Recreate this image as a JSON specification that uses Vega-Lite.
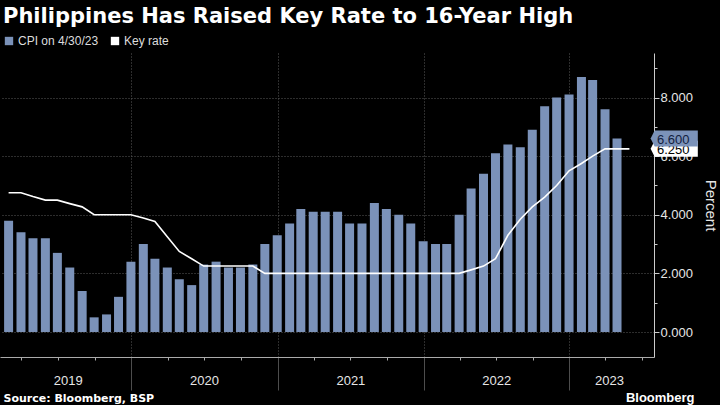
{
  "$schema": "https://vega.github.io/schema/vega-lite/v6.json",
  "width": 654,
  "height": 304,
  "autosize": {"type": "none"},
  "padding": {"left": 0, "top": 53, "right": 66, "bottom": 48},
  "background": "#000000",
  "config": {"view": {"stroke": null}},
  "title": {
    "text": "Philippines Has Raised Key Rate to 16-Year High",
    "anchor": "start",
    "frame": "group",
    "font": "DejaVu Sans",
    "fontSize": 21,
    "fontWeight": "bold",
    "color": "#ffffff",
    "offset": 8,
    "dx": 3
  },
  "datasets": {
    "cpi": [
      {"date": "2019-02-28", "value": 3.8},
      {"date": "2019-03-31", "value": 3.4},
      {"date": "2019-04-30", "value": 3.2},
      {"date": "2019-05-31", "value": 3.2},
      {"date": "2019-06-30", "value": 2.7},
      {"date": "2019-07-31", "value": 2.2},
      {"date": "2019-08-31", "value": 1.4},
      {"date": "2019-09-30", "value": 0.5},
      {"date": "2019-10-31", "value": 0.6},
      {"date": "2019-11-30", "value": 1.2},
      {"date": "2019-12-31", "value": 2.4},
      {"date": "2020-01-31", "value": 3.0},
      {"date": "2020-02-29", "value": 2.5},
      {"date": "2020-03-31", "value": 2.2},
      {"date": "2020-04-30", "value": 1.8},
      {"date": "2020-05-31", "value": 1.6},
      {"date": "2020-06-30", "value": 2.3},
      {"date": "2020-07-31", "value": 2.4},
      {"date": "2020-08-31", "value": 2.2},
      {"date": "2020-09-30", "value": 2.2},
      {"date": "2020-10-31", "value": 2.3},
      {"date": "2020-11-30", "value": 3.0},
      {"date": "2020-12-31", "value": 3.3},
      {"date": "2021-01-31", "value": 3.7},
      {"date": "2021-02-28", "value": 4.2},
      {"date": "2021-03-31", "value": 4.1},
      {"date": "2021-04-30", "value": 4.1},
      {"date": "2021-05-31", "value": 4.1},
      {"date": "2021-06-30", "value": 3.7},
      {"date": "2021-07-31", "value": 3.7},
      {"date": "2021-08-31", "value": 4.4},
      {"date": "2021-09-30", "value": 4.2},
      {"date": "2021-10-31", "value": 4.0},
      {"date": "2021-11-30", "value": 3.7},
      {"date": "2021-12-31", "value": 3.1},
      {"date": "2022-01-31", "value": 3.0},
      {"date": "2022-02-28", "value": 3.0},
      {"date": "2022-03-31", "value": 4.0},
      {"date": "2022-04-30", "value": 4.9},
      {"date": "2022-05-31", "value": 5.4},
      {"date": "2022-06-30", "value": 6.1},
      {"date": "2022-07-31", "value": 6.4},
      {"date": "2022-08-31", "value": 6.3},
      {"date": "2022-09-30", "value": 6.9},
      {"date": "2022-10-31", "value": 7.7},
      {"date": "2022-11-30", "value": 8.0},
      {"date": "2022-12-31", "value": 8.1},
      {"date": "2023-01-31", "value": 8.7},
      {"date": "2023-02-28", "value": 8.6},
      {"date": "2023-03-31", "value": 7.6},
      {"date": "2023-04-30", "value": 6.6}
    ],
    "rate": [
      {"date": "2019-02-28", "value": 4.75},
      {"date": "2019-03-31", "value": 4.75},
      {"date": "2019-04-30", "value": 4.62},
      {"date": "2019-05-31", "value": 4.5},
      {"date": "2019-06-30", "value": 4.5},
      {"date": "2019-07-31", "value": 4.38},
      {"date": "2019-08-31", "value": 4.27},
      {"date": "2019-09-30", "value": 4.0},
      {"date": "2019-10-31", "value": 4.0},
      {"date": "2019-11-30", "value": 4.0},
      {"date": "2019-12-31", "value": 4.0},
      {"date": "2020-01-31", "value": 3.89},
      {"date": "2020-02-29", "value": 3.77},
      {"date": "2020-03-31", "value": 3.25},
      {"date": "2020-04-30", "value": 2.75},
      {"date": "2020-05-31", "value": 2.5},
      {"date": "2020-06-30", "value": 2.25},
      {"date": "2020-07-31", "value": 2.25},
      {"date": "2020-08-31", "value": 2.25},
      {"date": "2020-09-30", "value": 2.25},
      {"date": "2020-10-31", "value": 2.25},
      {"date": "2020-11-30", "value": 2.0},
      {"date": "2020-12-31", "value": 2.0},
      {"date": "2021-01-31", "value": 2.0},
      {"date": "2021-02-28", "value": 2.0},
      {"date": "2021-03-31", "value": 2.0},
      {"date": "2021-04-30", "value": 2.0},
      {"date": "2021-05-31", "value": 2.0},
      {"date": "2021-06-30", "value": 2.0},
      {"date": "2021-07-31", "value": 2.0},
      {"date": "2021-08-31", "value": 2.0},
      {"date": "2021-09-30", "value": 2.0},
      {"date": "2021-10-31", "value": 2.0},
      {"date": "2021-11-30", "value": 2.0},
      {"date": "2021-12-31", "value": 2.0},
      {"date": "2022-01-31", "value": 2.0},
      {"date": "2022-02-28", "value": 2.0},
      {"date": "2022-03-31", "value": 2.0},
      {"date": "2022-04-30", "value": 2.12},
      {"date": "2022-05-31", "value": 2.25},
      {"date": "2022-06-30", "value": 2.5},
      {"date": "2022-07-31", "value": 3.3},
      {"date": "2022-08-31", "value": 3.85},
      {"date": "2022-09-30", "value": 4.27},
      {"date": "2022-10-31", "value": 4.6},
      {"date": "2022-11-30", "value": 5.0},
      {"date": "2022-12-31", "value": 5.5},
      {"date": "2023-01-31", "value": 5.75},
      {"date": "2023-02-28", "value": 6.0},
      {"date": "2023-03-31", "value": 6.25},
      {"date": "2023-04-30", "value": 6.25},
      {"date": "2023-05-31", "value": 6.25}
    ]
  },
  "encoding": {
    "y": {
      "field": "value",
      "type": "quantitative",
      "scale": {"domain": [-0.853, 9.52], "nice": false, "zero": false},
      "axis": {
        "orient": "right",
        "values": [0, 1, 2, 3, 4, 5, 6, 7, 8, 9],
        "labelExpr": "datum.value % 2 === 0 ? format(datum.value, '.3f') : ''",
        "tickSize": {"condition": {"test": "datum.value % 2 === 0", "value": 5}, "value": 3},
        "grid": true,
        "gridOpacity": {"condition": {"test": "datum.value % 2 === 0", "value": 1}, "value": 0},
        "gridDash": [1, 2],
        "gridColor": "#5a5a5a",
        "domainColor": "#cccccc",
        "tickColor": "#cccccc",
        "labelColor": "#e6e6e6",
        "labelFont": "Liberation Sans",
        "labelFontSize": 13,
        "labelPadding": 1,
        "labelOverlap": false,
        "labelFlush": false,
        "title": "Percent",
        "titleColor": "#e6e6e6",
        "titleFont": "Liberation Sans",
        "titleFontSize": 15,
        "titleFontWeight": "normal",
        "titlePadding": 10
      }
    }
  },
  "layer": [
    {
      "data": {"name": "cpi"},
      "mark": {"type": "bar", "width": 9},
      "encoding": {
        "x": {
          "field": "date",
          "type": "temporal",
          "scale": {"type": "utc", "domain": [{"year": 2019, "month": 2, "date": 19, "utc": true}, {"year": 2023, "month": 7, "date": 19, "utc": true}], "nice": false},
          "axis": {
            "orient": "bottom",
            "tickCount": {"interval": "month", "step": 3},
            "labels": false,
            "tickSize": {"condition": {"test": "utcmonth(datum.value) === 0", "value": 33}, "value": 3},
            "tickColor": {"condition": {"test": "utcmonth(datum.value) === 0", "value": "#4d4d4d"}, "value": "#aaaaaa"},
            "grid": true,
            "gridOpacity": {"condition": {"test": "utcmonth(datum.value) === 0", "value": 1}, "value": 0},
            "gridDash": [1, 2],
            "gridColor": "#5a5a5a",
            "domainColor": "#aaaaaa",
            "title": "Source: Bloomberg, BSP",
            "titleFont": "DejaVu Sans",
            "titleFontWeight": "bold",
            "titleFontSize": 11,
            "titleColor": "#ffffff",
            "titleAnchor": "start",
            "titleAlign": "left",
            "titleX": 3,
            "titleY": 44,
            "titleBaseline": "alphabetic"
          }
        },
        "color": {
          "datum": "CPI on 4/30/23",
          "scale": {"domain": ["CPI on 4/30/23", "Key rate"], "range": ["#7b92b9", "#ffffff"]},
          "legend": {
            "orient": "none",
            "legendX": 3,
            "legendY": -18,
            "direction": "horizontal",
            "title": null,
            "symbolType": "square",
            "symbolSize": 70,
            "symbolStrokeWidth": 0,
            "labelFont": "Liberation Sans",
            "labelFontSize": 12,
            "labelColor": "#dddddd",
            "labelOffset": 3,
            "columnPadding": 10
          }
        }
      }
    },
    {
      "data": {"name": "rate"},
      "mark": {"type": "line", "color": "#ffffff", "strokeWidth": 1.6},
      "encoding": {
        "x": {
          "field": "date",
          "type": "temporal",
          "scale": {"type": "utc", "domain": [{"year": 2019, "month": 2, "date": 19, "utc": true}, {"year": 2023, "month": 7, "date": 19, "utc": true}], "nice": false},
          "axis": {
            "orient": "bottom",
            "values": [
              {"year": 2019, "month": 7, "date": 26, "utc": true},
              {"year": 2020, "month": 7, "date": 1, "utc": true},
              {"year": 2021, "month": 7, "date": 2, "utc": true},
              {"year": 2022, "month": 7, "date": 2, "utc": true},
              {"year": 2023, "month": 4, "date": 10, "utc": true}
            ],
            "format": "%Y",
            "domain": false,
            "ticks": false,
            "grid": false,
            "labelColor": "#e6e6e6",
            "labelFont": "Liberation Sans",
            "labelFontSize": 13,
            "labelPadding": 17,
            "labelOverlap": false,
            "labelFlush": false,
            "title": "Bloomberg",
            "titleFont": "Liberation Sans",
            "titleFontSize": 13,
            "titleFontWeight": "bold",
            "titleColor": "#ffffff",
            "titleAnchor": "end",
            "titleAlign": "right",
            "titleX": 694,
            "titleY": 44,
            "titleBaseline": "alphabetic"
          }
        }
      }
    },
    {
      "data": {"values": [{"series": "Key rate", "date": "2023-04-30", "value": 6.25}]},
      "layer": [
        {
          "mark": {"type": "point", "shape": "M4.2,0L4.7,-1L10.1,-1L10.1,1L4.7,1Z", "size": 256, "filled": true, "opacity": 1, "fill": "#ffffff", "strokeWidth": 0},
          "encoding": {
            "x": {"field": "date", "type": "temporal", "scale": {"type": "utc", "domain": [{"year": 2019, "month": 2, "date": 19, "utc": true}, {"year": 2023, "month": 7, "date": 19, "utc": true}], "nice": false}, "axis": null}
          }
        },
        {
          "mark": {"type": "text", "align": "left", "baseline": "middle", "dx": 40, "dy": 1, "font": "Liberation Sans", "fontSize": 13, "color": "#000000"},
          "encoding": {
            "x": {"field": "date", "type": "temporal", "scale": {"type": "utc", "domain": [{"year": 2019, "month": 2, "date": 19, "utc": true}, {"year": 2023, "month": 7, "date": 19, "utc": true}], "nice": false}, "axis": null},
            "text": {"field": "value", "type": "quantitative", "format": ".3f"}
          }
        }
      ]
    },
    {
      "data": {"values": [{"series": "CPI on 4/30/23", "date": "2023-04-30", "value": 6.6}]},
      "layer": [
        {
          "mark": {"type": "point", "shape": "M4.2,0L4.7,-1L10.1,-1L10.1,1L4.7,1Z", "size": 256, "filled": true, "opacity": 1, "fill": "#7b92b9", "strokeWidth": 0},
          "encoding": {
            "x": {"field": "date", "type": "temporal", "scale": {"type": "utc", "domain": [{"year": 2019, "month": 2, "date": 19, "utc": true}, {"year": 2023, "month": 7, "date": 19, "utc": true}], "nice": false}, "axis": null}
          }
        },
        {
          "mark": {"type": "text", "align": "left", "baseline": "middle", "dx": 40, "dy": 1, "font": "Liberation Sans", "fontSize": 13, "color": "#12213f"},
          "encoding": {
            "x": {"field": "date", "type": "temporal", "scale": {"type": "utc", "domain": [{"year": 2019, "month": 2, "date": 19, "utc": true}, {"year": 2023, "month": 7, "date": 19, "utc": true}], "nice": false}, "axis": null},
            "text": {"field": "value", "type": "quantitative", "format": ".3f"}
          }
        }
      ]
    }
  ],
  "resolve": {"axis": {"x": "independent"}}
}
